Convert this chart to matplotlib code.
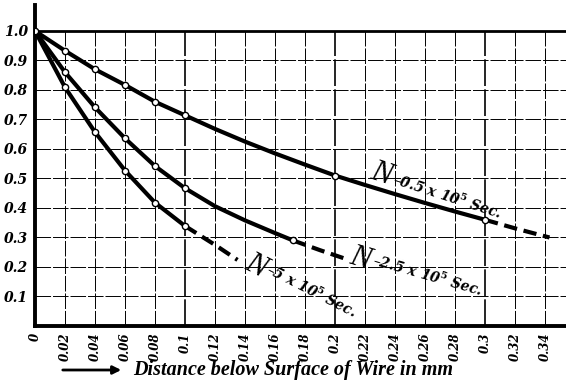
import numpy as np
import matplotlib
matplotlib.use("Agg")
import matplotlib.pyplot as plt

plt.rcParams["mathtext.fontset"] = "dejavuserif"

# fatigue curves read along the wire depth (mm) -> relative value
x_ticks = [0, 0.02, 0.04, 0.06, 0.08, 0.1, 0.12, 0.14, 0.16, 0.18, 0.2,
           0.22, 0.24, 0.26, 0.28, 0.3, 0.32, 0.34]
x_labels = ["0", "0.02", "0.04", "0.06", "0.08", "0.1", "0.12", "0.14", "0.16",
            "0.18", "0.2", "0.22", "0.24", "0.26", "0.28", "0.3", "0.32", "0.34"]
y_ticks = [0.1, 0.2, 0.3, 0.4, 0.5, 0.6, 0.7, 0.8, 0.9, 1.0]
y_labels = ["0.1", "0.2", "0.3", "0.4", "0.5", "0.6", "0.7", "0.8", "0.9", "1.0"]

# N = 0.5 x 10^5 sec
c1_x = [0, 0.02, 0.04, 0.06, 0.08, 0.1, 0.12, 0.14, 0.16, 0.18, 0.2,
        0.22, 0.24, 0.26, 0.28, 0.3]
c1_y = [1.0, 0.933, 0.870, 0.817, 0.760, 0.714, 0.668, 0.625, 0.585, 0.547, 0.510,
        0.478, 0.447, 0.417, 0.388, 0.360]
c1_dash_x = [0.3, 0.32, 0.343]
c1_dash_y = [0.360, 0.331, 0.300]
c1_pts_x = [0, 0.02, 0.04, 0.06, 0.08, 0.1, 0.2, 0.3]
c1_pts_y = [1.0, 0.933, 0.870, 0.817, 0.760, 0.714, 0.510, 0.360]

# N = 2.5 x 10^5 sec
c2_x = [0, 0.02, 0.04, 0.06, 0.08, 0.1, 0.12, 0.14, 0.16, 0.172]
c2_y = [1.0, 0.860, 0.741, 0.636, 0.542, 0.467, 0.406, 0.358, 0.315, 0.290]
c2_dash_x = [0.172, 0.19, 0.208]
c2_dash_y = [0.290, 0.257, 0.226]
c2_pts_x = [0.02, 0.04, 0.06, 0.08, 0.1, 0.172]
c2_pts_y = [0.860, 0.741, 0.636, 0.542, 0.467, 0.290]

# N = 5 x 10^5 sec
c3_x = [0, 0.02, 0.04, 0.06, 0.08, 0.1]
c3_y = [1.0, 0.809, 0.657, 0.527, 0.418, 0.339]
c3_dash_x = [0.1, 0.12, 0.135]
c3_dash_y = [0.339, 0.275, 0.224]
c3_pts_x = [0.02, 0.04, 0.06, 0.08, 0.1]
c3_pts_y = [0.809, 0.657, 0.527, 0.418, 0.339]

serif = ["DejaVu Serif", "Liberation Serif"]
times = ["Liberation Serif", "DejaVu Serif"]

fig = plt.figure(figsize=(5.66, 3.82), dpi=100)
ax = fig.add_axes([35 / 566, 56 / 382, 531 / 566, 321 / 382])
ax.set_xlim(0, 0.354)
ax.set_ylim(0, 1.088)

# grid, only inside the 0..1 box
for xv in x_ticks[1:]:
    lw = 1.2 if xv in (0.1, 0.2, 0.3) else 0.7
    ax.plot([xv, xv], [0, 1.0], color="black", lw=lw, ls=(0, (16, 2)), zorder=1)
for yv in y_ticks[:-1]:
    ax.plot([0, 0.354], [yv, yv], color="black", lw=0.7, ls=(0, (16, 2)), zorder=1)
ax.plot([0, 0.354], [1.0, 1.0], color="black", lw=2.0, zorder=2)

for sp in ["top", "right"]:
    ax.spines[sp].set_visible(False)
ax.spines["left"].set_linewidth(2.8)
ax.spines["bottom"].set_linewidth(2.8)

# curves
for xs, ys, dx, dy, px, py in [(c1_x, c1_y, c1_dash_x, c1_dash_y, c1_pts_x, c1_pts_y),
                               (c2_x, c2_y, c2_dash_x, c2_dash_y, c2_pts_x, c2_pts_y),
                               (c3_x, c3_y, c3_dash_x, c3_dash_y, c3_pts_x, c3_pts_y)]:
    ax.plot(xs, ys, color="black", lw=3.0, solid_capstyle="butt", zorder=3)
    ax.plot(dx, dy, color="black", lw=3.0, ls=(0, (3.2, 1.6)), zorder=3)
    ax.plot(px, py, "o", ms=4.5, mfc="white", mec="black", mew=1.0, zorder=4)

# curve names
labels = [(0.2225, 0.500, 0.2375, 0.480, -18, r"\u20130.5 x 10$^{\mathbf{5}}$ Sec."),
          (0.209, 0.214, 0.2245, 0.205, -16, r"\u20132.5 x 10$^{\mathbf{5}}$ Sec."),
          (0.1387, 0.197, 0.1530, 0.180, -27, r"\u20135 x 10$^{\mathbf{5}}$ Sec.")]
for nx, ny, rx, ry, rot, txt in labels:
    txt = txt.replace("\\u2013", "\u2013")
    ax.text(nx, ny, "N", family=times, style="italic",
            fontsize=22, rotation=rot, rotation_mode="anchor", ha="left",
            va="baseline", zorder=5)
    ax.text(rx, ry, txt, family=serif, style="italic", weight="bold", fontsize=10,
            rotation=rot, rotation_mode="anchor", ha="left", va="baseline", zorder=5)

ax.set_xticks(x_ticks)
ax.set_xticklabels(x_labels, rotation=90, family=serif, style="italic",
                   weight="bold", fontsize=8.5)
ax.set_yticks(y_ticks)
ax.set_yticklabels(y_labels, family=serif, style="italic", weight="bold", fontsize=10)
ax.tick_params(length=0, pad=5)

# axis caption with arrow
fig.add_artist(matplotlib.patches.FancyArrowPatch(
    (60, 12), (124, 12), transform=None, arrowstyle="-|>", mutation_scale=12,
    lw=2.0, color="black"))
fig.text(133 / 566, 12 / 382, "Distance below Surface of Wire in mm", family=times,
         style="italic", weight="bold", fontsize=14.5, va="center", ha="left")

fig.savefig("out.png", dpi=100)
